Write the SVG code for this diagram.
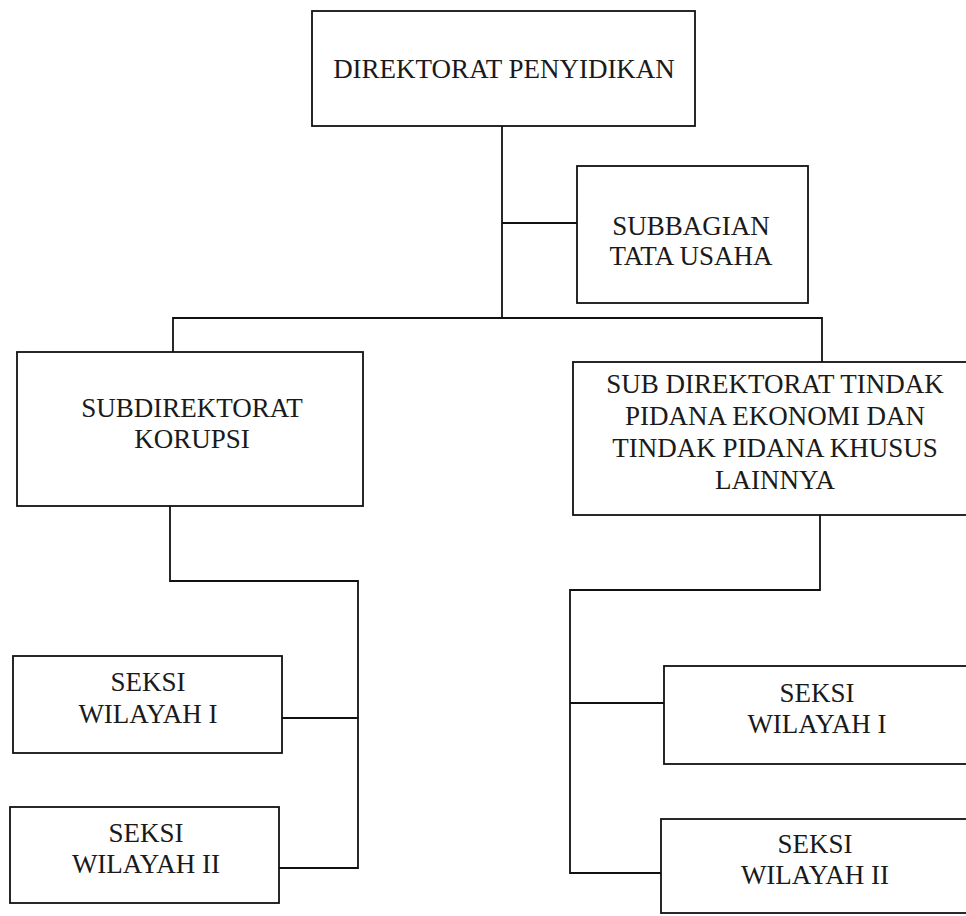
<svg xmlns="http://www.w3.org/2000/svg" width="966" height="916" viewBox="0 0 966 916">
<style>
.box{fill:none;stroke:#111;stroke-width:1.8}
.ln{fill:none;stroke:#111;stroke-width:1.8}
.t{font-family:"Liberation Serif","Times New Roman",serif;font-size:27px;fill:#1a1a1a;text-anchor:middle}
</style>
<rect width="966" height="916" fill="#fff"/>
<g id="connectors">
<path class="ln" d="M502,126 V318 M502,223 H577 M173,352 V318 H822 V362"/>
<path class="ln" d="M170,506 V581 H358 V868 H279 M282,718 H358"/>
<path class="ln" d="M820,515 V590 H570 V873 H661 M570,703 H664"/>
</g>
<g id="direktorat">
<rect class="box" x="312" y="11" width="383" height="115"/>
<text class="t" x="504" y="78">DIREKTORAT PENYIDIKAN</text>
</g>
<g id="subbagian">
<rect class="box" x="577" y="166" width="231" height="137"/>
<text class="t" x="691" y="235">SUBBAGIAN</text>
<text class="t" x="691" y="265">TATA USAHA</text>
</g>
<g id="korupsi">
<rect class="box" x="17" y="352" width="346" height="154"/>
<text class="t" x="192" y="417">SUBDIREKTORAT</text>
<text class="t" x="192" y="448">KORUPSI</text>
</g>
<g id="ekonomi">
<rect class="box" x="573" y="362" width="400" height="153"/>
<text class="t" x="775" y="393">SUB DIREKTORAT TINDAK</text>
<text class="t" x="775" y="425">PIDANA EKONOMI DAN</text>
<text class="t" x="775" y="457">TINDAK PIDANA KHUSUS</text>
<text class="t" x="775" y="489">LAINNYA</text>
</g>
<g id="seksi-l1">
<rect class="box" x="13" y="656" width="269" height="97"/>
<text class="t" x="148" y="691">SEKSI</text>
<text class="t" x="148" y="723">WILAYAH I</text>
</g>
<g id="seksi-l2">
<rect class="box" x="10" y="807" width="269" height="96"/>
<text class="t" x="146" y="842">SEKSI</text>
<text class="t" x="146" y="873">WILAYAH II</text>
</g>
<g id="seksi-r1">
<rect class="box" x="664" y="666" width="310" height="98"/>
<text class="t" x="817" y="702">SEKSI</text>
<text class="t" x="817" y="733">WILAYAH I</text>
</g>
<g id="seksi-r2">
<rect class="box" x="661" y="819" width="310" height="94"/>
<text class="t" x="815" y="853">SEKSI</text>
<text class="t" x="815" y="884">WILAYAH II</text>
</g>
</svg>
